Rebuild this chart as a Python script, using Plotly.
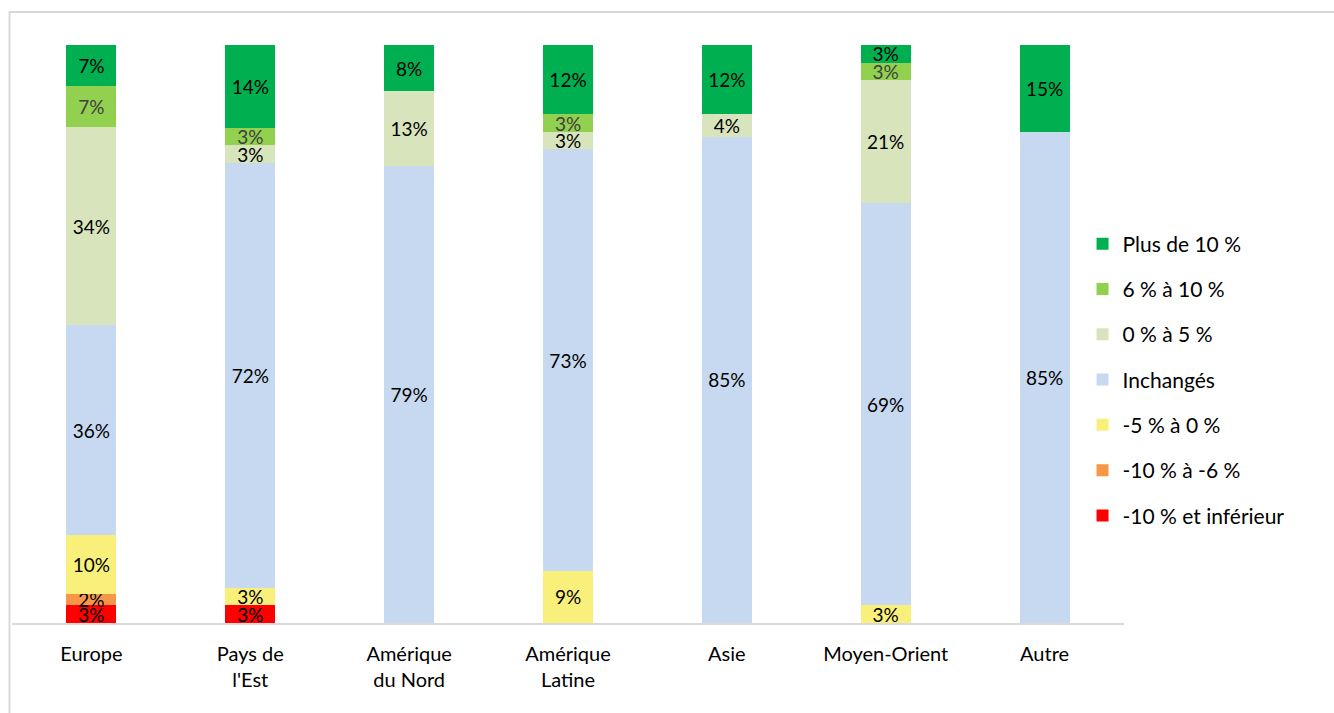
import plotly.graph_objects as go

# Regions (x categories) and share of answers per price-change band
categories = ["Europe", "Pays de<br>l'Est", "Amérique<br>du Nord", "Amérique<br>Latine",
              "Asie", "Moyen-Orient", "Autre"]

bands = ["-10 % et inférieur", "-10 % à -6 %", "-5 % à 0 %", "Inchangés",
         "0 % à 5 %", "6 % à 10 %", "Plus de 10 %"]

moins_10_et_inf = [3, 3, 0, 0, 0, 0, 0]
moins_10_a_moins_6 = [2, 0, 0, 0, 0, 0, 0]
moins_5_a_0 = [10, 3, 0, 9, 0, 3, 0]
inchanges = [36, 72, 79, 73, 85, 69, 85]
zero_a_5 = [34, 3, 13, 3, 4, 21, 0]
six_a_10 = [7, 3, 0, 3, 0, 3, 0]
plus_de_10 = [7, 14, 8, 12, 12, 3, 15]

series = [moins_10_et_inf, moins_10_a_moins_6, moins_5_a_0, inchanges,
          zero_a_5, six_a_10, plus_de_10]
colors = ["#FF0000", "#F79646", "#F9F07C", "#C6D9F0", "#D8E4BC", "#92D050", "#00B050"]
label_colors = ["#000000", "#000000", "#000000", "#000000", "#000000", "#404040", "#000000"]

FONT = "Lato"

fig = go.Figure()
for i, (name, vals, col, lcol) in enumerate(zip(bands, series, colors, label_colors)):
    fig.add_trace(go.Bar(
        x=categories,
        y=vals,
        name=name,
        legendgroup=name,
        legendrank=100 - i,  # highest band listed first
        marker=dict(color=col, line=dict(width=0)),
        text=[f"{v}%" if v else "" for v in vals],
        textposition="inside",
        insidetextanchor="middle",
        textangle=0,
        constraintext="none",
        cliponaxis=False,
        textfont=dict(family=FONT, size=19, color=lcol),
        hoverinfo="skip",
    ))

L, R, T, B = 11.5, 1124.5, 45, 623
W, H = 1334, 713

fig.update_layout(
    width=W, height=H,
    margin=dict(l=L, r=W - R, t=T, b=H - B, pad=0),
    barmode="stack",
    barnorm="percent",
    bargap=0.685,
    plot_bgcolor="white",
    paper_bgcolor="white",
    font=dict(family=FONT, size=20, color="#000000"),
    showlegend=True,
    legend=dict(
        traceorder="grouped",
        tracegroupgap=15,
        x=1.0 + (1083 - R) / (R - L),
        xanchor="left",
        y=(B - 380) / (B - T),
        yanchor="middle",
        font=dict(family=FONT, size=21, color="#000000"),
        bgcolor="rgba(0,0,0,0)",
        itemclick=False,
    ),
    xaxis=dict(
        showline=True, linecolor="#D9D9D9", linewidth=2,
        showgrid=False, zeroline=False,
        ticks="", ticklabelstandoff=12,
        tickfont=dict(family=FONT, size=20, color="#000000"),
    ),
    yaxis=dict(range=[0, 100.02], visible=False, showgrid=False, zeroline=False),
    shapes=[dict(
        type="rect", xref="paper", yref="paper",
        x0=(9 - L) / (R - L), x1=1.5,
        y0=-0.5, y1=(B - 12) / (B - T),
        line=dict(color="#D9D9D9", width=2),
        fillcolor="rgba(0,0,0,0)",
        layer="below",
    )],
)

fig.write_html("out.html")
